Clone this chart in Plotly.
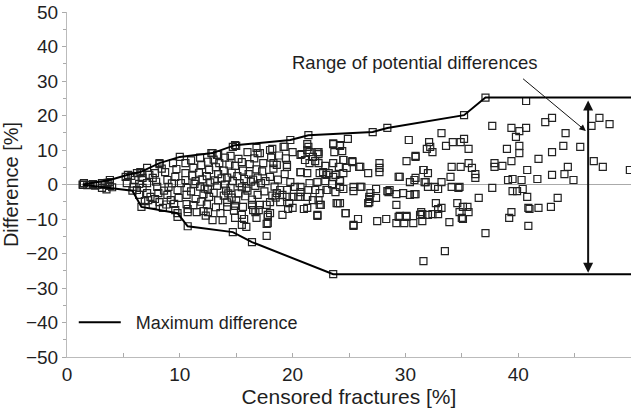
import plotly.graph_objects as go

# ---- data ----
# envelope of maximum difference
upper_x = [1.4, 3.8, 5.4, 6.5, 8.2, 10.0, 12.9, 14.9, 19.8, 21.4, 27.1, 28.4, 35.2, 37.1, 50.0]
upper_y = [0.0, 1.3, 2.8, 3.6, 6.2, 8.0, 9.1, 11.4, 12.9, 14.3, 15.2, 16.4, 20.1, 25.2, 25.2]
lower_x = [1.4, 5.8, 6.6, 9.8, 10.7, 14.7, 16.4, 23.6, 50.0]
lower_y = [-0.1, -1.8, -6.5, -8.3, -12.1, -13.8, -16.7, -26.0, -26.0]

# scatter samples, grouped by censored fraction band: (censored %, difference %)
pts_0_10 = [
    (1.5, 0.4), (1.8, -0.2), (2.0, -0.1), (2.3, 0.1), (2.5, -0.3), (2.7, -0.1), (3.1, 0.4), (3.1, -1.0),
    (3.4, -0.1), (3.6, 0.5), (3.8, 0.7), (3.8, -0.4), (3.5, -1.4), (4.0, -0.8), (5.3, 0.4), (5.2, 2.2),
    (5.7, 2.5), (6.0, 1.3), (5.9, -0.7), (6.2, -1.6), (6.4, -3.0), (6.2, 3.3), (6.6, 3.3), (7.1, 4.8),
    (6.7, 1.9), (7.1, 0.4), (6.7, -1.0), (7.1, -2.5), (7.2, -4.5), (7.6, -5.9), (7.8, 3.3), (8.2, 5.9),
    (7.6, 1.9), (8.0, -0.7), (8.1, -2.5), (8.2, -5.1), (8.5, -6.8), (8.7, 3.6), (8.9, 1.3), (9.0, -0.7),
    (8.9, -3.0), (9.2, -4.5), (9.6, -7.4), (9.8, -9.4), (9.4, 6.2), (9.7, 4.5), (9.6, 2.2), (9.8, -1.6),
    (7.4, -3.6), (7.9, 0.8), (6.9, -4.8), (8.4, 4.6), (9.3, 0.3), (8.6, -1.8), (7.3, 2.8), (6.4, 0.2),
    (8.8, -5.8), (9.5, -5.6), (9.9, -3.9), (7.8, -4.2),
]
pts_10_20 = [
    (10.1, 0.4), (10.5, 6.2), (10.5, 3.3), (10.5, 1.3), (10.6, -1.0), (10.6, -3.0), (10.6, -5.7), (10.7, -8.0),
    (10.7, -7.1), (11.5, -8.0), (11.0, 7.0), (11.2, 4.8), (11.1, 2.6), (11.3, 0.2), (11.0, -2.0), (11.4, -4.2),
    (11.2, -6.0), (11.8, 7.8), (11.9, 5.6), (11.7, 3.4), (12.0, 1.5), (11.8, -0.6), (12.1, -2.8), (11.9, -5.0),
    (12.1, -7.7), (12.3, -9.0), (12.5, 6.6), (12.6, 4.2), (12.4, 2.4), (12.7, 0.6), (12.5, -1.4), (12.6, -3.6),
    (12.4, -5.8), (12.5, -8.0), (12.9, -10.3), (12.8, 9.1), (13.3, 8.6), (13.0, 7.2), (13.2, 5.0), (13.4, 3.0),
    (13.1, 1.2), (13.3, -0.4), (13.0, -2.4), (13.4, -4.6), (13.2, -6.6), (13.6, -8.3), (13.8, -10.3), (13.5, 6.2),
    (14.0, 7.8), (13.9, 4.0), (14.2, 2.0), (14.0, 0.0), (14.1, -1.8), (13.9, -3.2), (14.2, -5.2), (14.2, -6.5),
    (14.5, 8.3), (14.4, 5.8), (14.6, 3.4), (14.7, 1.0), (14.5, -1.0), (14.6, -3.8), (14.8, -7.6), (15.0, 11.2),
    (14.9, 5.4), (15.2, 7.4), (15.1, 2.4), (15.3, 0.4), (15.2, -2.6), (15.0, -4.6), (14.9, -6.2), (14.9, -9.7),
    (15.5, 6.5), (15.6, 4.0), (15.7, 1.6), (15.5, -0.8), (15.8, -3.4), (15.6, -6.5), (15.5, -8.8), (15.7, -10.0),
    (15.5, -11.7), (15.9, -12.3), (16.0, 9.4), (16.2, 5.9), (16.1, 3.0), (16.3, 0.8), (16.0, -1.8), (16.4, -4.4),
    (16.4, -5.9), (16.7, -8.0), (16.8, -9.7), (16.5, -7.4), (16.8, 10.6), (16.6, 7.6), (16.8, 4.4), (16.9, 2.0),
    (16.7, -0.4), (16.9, -3.0), (17.1, 9.1), (17.4, 6.2), (17.3, 3.8), (17.2, 0.4), (17.5, -2.0), (17.1, -5.9),
    (17.0, -7.4), (17.7, -11.4), (17.7, -14.9), (17.8, -11.2), (18.0, -8.3), (17.8, -9.4), (18.2, 10.3), (18.1, 7.8),
    (18.3, 4.6), (18.0, 2.2), (18.4, -0.6), (18.2, -3.2), (18.0, -5.1), (18.6, 5.7), (18.7, 1.4), (18.9, -1.6),
    (18.9, -5.1), (18.8, 8.4), (19.2, 10.9), (19.5, 5.1), (19.3, 3.0), (19.1, -3.0), (19.6, -7.1), (19.1, -8.8),
    (19.5, -3.6), (19.8, 0.7), (19.4, 7.6), (19.7, -5.4), (18.0, 10.0), (18.3, 6.2), (19.5, 5.7), (19.3, 10.9),
    (17.7, -5.9), (17.8, -8.8), (18.6, -2.5), (19.5, -1.6), (16.9, 9.1), (14.7, 10.9), (13.4, 8.6),
    (11.4, 1.0), (12.2, -1.2), (13.7, 1.8), (14.3, -2.6), (15.9, -1.0), (16.5, 1.4), (17.6, 1.0), (18.5, -3.8),
]
pts_20_30 = [
    (20.0, 9.4), (20.7, 8.6), (21.4, 10.9), (21.8, 8.0), (22.3, 9.4), (23.6, 11.9), (24.2, 11.4), (24.5, 7.1),
    (22.3, 6.2), (20.7, 3.6), (22.7, 3.6), (23.6, 2.2), (24.2, 1.3), (20.2, -0.7), (20.8, 8.8), (21.5, 9.4),
    (24.9, 13.2), (30.3, 12.9), (21.3, 11.7), (23.6, 11.7), (24.2, 11.2), (23.7, 9.4), (24.4, 9.7), (22.2, 9.4),
    (21.3, 10.0), (22.3, 8.8), (30.9, 8.3), (30.1, 6.8), (27.7, 6.2), (27.7, 4.8), (27.7, 3.6), (26.7, 3.3),
    (25.9, 5.1), (25.3, 6.8), (24.5, 7.1), (23.6, 6.2), (24.1, 5.1), (24.8, 4.8), (22.9, 5.4), (23.2, 3.3),
    (23.8, 2.8), (24.5, 3.3), (22.0, 6.8), (21.1, 7.1), (21.5, 6.2), (22.4, 3.3), (23.0, 2.8), (29.4, 2.2),
    (30.4, 0.7), (30.9, 1.9), (22.2, 0.7), (22.9, 1.0), (23.5, 0.1), (24.2, 1.0), (26.1, -0.7), (25.4, -1.9),
    (27.4, -1.3), (26.9, -2.5), (28.4, -1.9), (29.8, -2.5), (30.4, -3.0), (30.8, -2.8), (22.0, -1.6), (22.4, -2.5),
    (23.1, -1.6), (23.8, -2.2), (24.5, -1.3), (20.7, -3.6), (21.3, -3.6), (22.3, -4.5), (22.5, -5.9), (24.0, -5.4),
    (26.8, -4.2), (27.4, -3.9), (26.7, -5.4), (29.2, -5.9), (21.0, -7.1), (22.2, -9.1), (24.7, -8.3), (25.8, -10.0),
    (25.4, -12.0), (27.5, -10.6), (28.3, -10.0), (29.4, -9.4), (30.1, -9.4), (29.2, -11.2), (29.9, -11.2),
    (30.7, -11.2), (20.7, 3.6), (21.3, 3.3), (20.5, -3.6), (21.3, -6.8), (20.0, -6.8), (21.8, -4.5), (22.4, -5.9),
    (23.9, -5.4), (22.2, -8.8), (24.2, -0.7), (23.0, -1.6), (21.4, -1.6), (20.7, -0.7), (20.0, -3.6),
    (21.5, 0.4), (20.7, -2.2), (25.4, -0.7), (26.0, -0.7), (26.8, -3.6), (28.5, -2.2), (29.2, -2.8), (30.9, -2.8),
    (28.6, -1.6), (26.0, 5.1), (25.3, 6.5), (29.5, 2.2), (30.8, 1.3), (25.4, -11.7), (26.8, -5.1), (29.5, -9.1),
    (30.1, -9.1), (24.2, -5.4), (24.7, -8.3),
]
pts_30_50 = [
    (37.7, 17.0), (39.4, 16.4), (40.1, 15.5), (40.7, 16.4), (39.8, 13.8), (40.1, 11.2), (40.1, 9.1), (39.0, 10.3),
    (39.4, 6.8), (37.9, 6.2), (37.9, 5.1), (38.6, 5.4), (40.8, 4.2), (33.2, 14.9), (32.1, 12.3), (31.9, 10.3),
    (32.4, 9.4), (33.6, 11.2), (34.2, 12.3), (34.9, 12.3), (35.2, 13.2), (35.6, 10.3), (35.6, 6.2), (35.9, 4.8),
    (36.2, 3.0), (36.2, 1.9), (34.1, 5.1), (34.9, 5.1), (34.0, 2.2), (31.6, 4.2), (32.0, 3.3), (31.8, 0.7),
    (33.2, 0.7), (32.6, -0.7), (32.9, -1.3), (34.1, -0.7), (34.8, -0.7), (37.7, -1.0), (39.1, 1.3), (39.5, 1.6),
    (40.3, 1.3), (39.5, -1.9), (39.9, -1.9), (40.4, -1.3), (40.8, -3.6), (36.5, -3.9), (32.7, -5.4), (33.2, -6.8),
    (32.9, -7.1), (32.4, -8.6), (32.9, -8.6), (34.6, -5.4), (34.8, -8.0), (35.1, -6.5), (35.5, -6.5), (35.6, -8.0),
    (35.0, -9.7), (33.9, -10.9), (31.5, -8.6), (31.5, -10.6), (39.4, -8.0), (39.2, -9.7), (40.9, -6.8),
    (40.9, -12.0), (37.1, -14.1), (33.5, -19.3), (31.6, -22.2), (40.7, 24.2), (42.4, 18.1), (43.0, 19.3),
    (44.2, 14.9), (44.0, 11.2), (45.5, 10.9), (43.0, 9.4), (41.8, 7.4), (44.4, 5.1), (44.1, 3.0), (44.9, 1.3),
    (43.0, 2.8), (41.7, 1.6), (47.2, 19.3), (48.1, 17.5), (46.5, 17.0), (46.7, 6.8), (47.5, 5.1), (49.9, 4.2),
    (43.5, -3.9), (41.0, -7.1), (41.8, -6.8), (42.9, -6.5), (31.4, -8.0), (35.1, -10.0), (31.3, -8.8),
    (32.0, -8.8), (32.0, -0.7), (31.7, 0.7), (31.6, 4.2), (30.9, 8.0), (32.2, 10.9), (34.7, -1.0),
]

x_ticks = [0, 10, 20, 30, 40, 50]
y_ticks = [-50, -40, -30, -20, -10, 0, 10, 20, 30, 40, 50]

samples = pts_0_10 + pts_10_20 + pts_20_30 + pts_30_50
sx = [p[0] for p in samples] + upper_x[:-1] + lower_x[:-1]
sy = [p[1] for p in samples] + upper_y[:-1] + lower_y[:-1]

FONT = "Liberation Sans, Arial, sans-serif"
TXT = "#1f1f1f"

fig = go.Figure()
fig.add_trace(go.Scatter(x=sx, y=sy, mode="markers", showlegend=False,
                         marker=dict(symbol="square-open", size=7, color="#222222",
                                     line=dict(width=1.2, color="#222222"))))
fig.add_trace(go.Scatter(x=upper_x, y=upper_y, mode="lines", name="&nbsp;&nbsp;Maximum difference",
                         line=dict(color="black", width=2), showlegend=True))
fig.add_trace(go.Scatter(x=lower_x, y=lower_y, mode="lines", showlegend=False,
                         line=dict(color="black", width=2)))

fig.add_annotation(x=30.8, y=35.5, text="Range of potential differences", showarrow=False,
                   font=dict(size=18.5, color=TXT, family=FONT))
fig.add_annotation(x=46.0, y=15.5, ax=40.3, ay=31.0, axref="x", ayref="y", text="",
                   showarrow=True, arrowhead=2, arrowsize=1.3, arrowwidth=1, arrowcolor="#111")
fig.add_annotation(x=46.2, y=-25.6, ax=46.2, ay=24.8, axref="x", ayref="y", text="",
                   showarrow=True, arrowhead=2, arrowsize=1, arrowwidth=2, arrowcolor="#111",
                   arrowside="end+start", startarrowhead=2, startarrowsize=1)

fig.update_layout(
    width=640, height=413, margin=dict(l=67, r=9, t=12, b=56, autoexpand=False),
    paper_bgcolor="white", plot_bgcolor="white",
    font=dict(family=FONT, color=TXT, size=19),
    legend=dict(x=0.012, y=0.1, xanchor="left", yanchor="middle", bgcolor="rgba(0,0,0,0)",
                font=dict(size=18, color=TXT), itemwidth=42),
    xaxis=dict(range=[0, 50], tickvals=x_ticks, ticks="inside", ticklen=4, tickcolor="#aaaaaa",
               minor=dict(dtick=5, ticks="inside", ticklen=4, tickcolor="#aaaaaa"),
               showline=True, linecolor="#bbbbbb", linewidth=1, showgrid=False, zeroline=False,
               automargin=False,
               title=dict(text="Censored fractures [%]", font=dict(size=21), standoff=2),
               tickfont=dict(size=19)),
    yaxis=dict(range=[-50, 50], tickvals=y_ticks, ticks="outside", ticklen=4, tickcolor="#aaaaaa",
               minor=dict(dtick=5, ticks="outside", ticklen=3, tickcolor="#aaaaaa"),
               showline=True, linecolor="#bbbbbb", linewidth=1, showgrid=False,
               zeroline=True, zerolinecolor="#aaaaaa", zerolinewidth=1, automargin=False,
               title=dict(text="Difference [%]", font=dict(size=20), standoff=4),
               tickfont=dict(size=19)),
)

fig.write_html("out.html")
